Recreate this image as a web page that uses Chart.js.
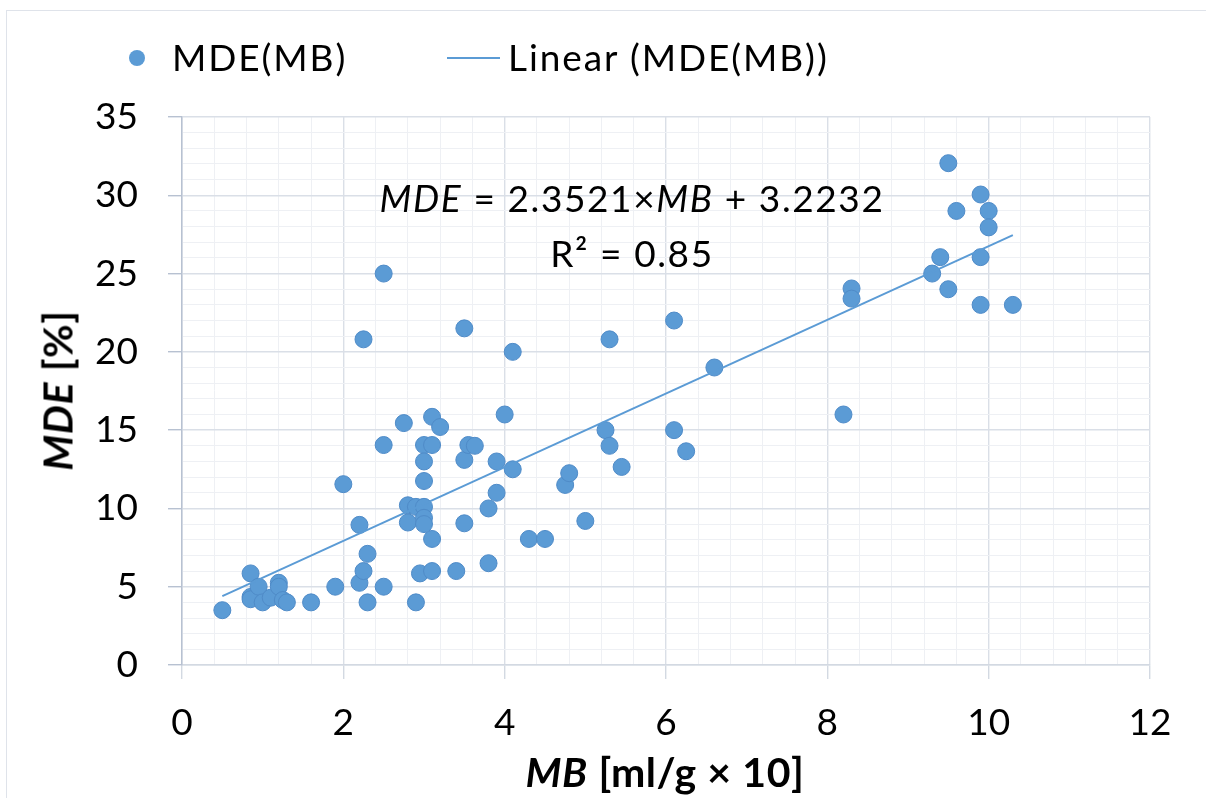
<!DOCTYPE html>
<html>
<head>
<meta charset="utf-8">
<title>MDE vs MB</title>
<script src="https://cdn.jsdelivr.net/npm/chart.js@4"></script>
<style>
  html, body { margin: 0; padding: 0; background: #fff; }
  body { font-family: Lato, 'Open Sans', sans-serif; color: #000; }
  #wrap { position: relative; width: 1206px; height: 798px; overflow: hidden; }
  #frame { position: absolute; left: 6px; top: 10px; width: 1300px; height: 900px; border: 1.5px solid #dfe3ea; }
  canvas { position: absolute; left: 0; top: 0; }
  .txt { position: absolute; white-space: nowrap; font-size: 37px; line-height: 37px; letter-spacing: 1.9px; }
  .dot { position: absolute; width: 16px; height: 16px; border-radius: 50%; background: #5b9bd5; }
  .lline { position: absolute; height: 0; border-top: 2px solid #5b9bd5; }
  .eq { position: absolute; text-align: center; font-size: 37px; line-height: 55px; white-space: nowrap; letter-spacing: 1.6px; }
  .ttl { position: absolute; text-align: center; font-size: 41px; line-height: 41px; font-weight: bold; white-space: nowrap; letter-spacing: 0.6px; }
</style>
</head>
<body>
<div id="wrap">
  <div id="frame"></div>
  <canvas id="chart" width="1206" height="798"></canvas>

  <!-- legend -->
  <span class="dot" style="left:129px; top:50px;"></span>
  <div class="txt" style="left:172px; top:38px;">MDE(MB)</div>
  <span class="lline" style="left:447px; top:57px; width:53px;"></span>
  <div class="txt" style="left:508px; top:38px;">Linear (MDE(MB))</div>

  <!-- trendline label -->
  <div class="eq" style="left:332px; top:170px; width:600px;"><i>MDE</i> = 2.3521×<i>MB</i> + 3.2232<br>R² = 0.85</div>

  <!-- axis titles -->
  <div class="ttl" style="left:365px; top:751px; width:600px;"><i>MB</i> [ml/g × 10]</div>
  <div class="ttl" style="left:-143px; top:370px; width:400px; transform: rotate(-90deg);"><i>MDE</i> [%]</div>
</div>

<script>
// ==================== DATA ====================
const mbValues = [
  0.5, 0.85, 0.85, 0.85, 0.95, 1.0, 1.1, 1.2, 1.2, 1.25, 1.3, 1.6, 1.9,
  2.0, 2.2, 2.2, 2.25, 2.25, 2.3, 2.3, 2.5, 2.5, 2.5, 2.75, 2.8, 2.8,
  2.9, 3.0, 3.0, 3.0, 2.9, 2.95, 3.0, 3.1, 3.0, 3.0, 3.1, 3.2, 3.1, 3.1,
  3.4, 3.5, 3.5, 3.5, 3.55, 3.63, 3.8, 3.8, 3.9, 3.9, 4.0, 4.1, 4.1,
  4.3, 4.5, 4.75, 4.8, 5.0, 5.25, 5.3, 5.3, 5.45, 6.1, 6.1, 6.25, 6.6,
  8.2, 8.3, 8.3, 9.3, 9.4, 9.5, 9.5, 9.6, 9.9, 9.9, 9.9, 10.0, 10.0, 10.3
];
const mdeValues = [
  3.5, 5.85, 4.35, 4.2, 5.0, 4.0, 4.3, 5.25, 5.0, 4.15, 4.0, 4.0, 5.0,
  11.55, 8.95, 5.25, 20.8, 6.0, 7.1, 4.0, 25.0, 14.05, 5.0, 15.45, 10.2, 9.1,
  10.1, 10.1, 9.4, 9.0, 4.0, 5.85, 14.05, 14.05, 13.0, 11.75, 15.85, 15.2, 8.05, 6.0,
  6.0, 21.5, 13.1, 9.05, 14.05, 14.0, 6.5, 10.0, 11.0, 13.0, 16.0, 20.0, 12.5,
  8.05, 8.05, 11.5, 12.25, 9.2, 15.0, 20.8, 14.0, 12.65, 22.0, 15.0, 13.65, 19.0,
  16.0, 24.05, 23.4, 25.0, 26.05, 32.05, 24.0, 29.0, 30.05, 26.05, 23.0, 29.0, 27.95, 23.0
];

// linear trendline end points
const trendX = [0.5, 10.3];
const trendY = [4.4, 27.45];

// ==================== STYLE HELPERS ====================
const FONT = "Lato, 'Open Sans', sans-serif";
const isMult = (v, m) => Math.abs(v / m - Math.round(v / m)) < 1e-6;

const MAJOR_GRID = '#dadfe7';
const MINOR_GRID = '#eef0f4';

// ==================== CHART ====================
new Chart(document.getElementById('chart').getContext('2d'), {
  type: 'scatter',
  data: {
    datasets: [
      {
        label: 'MDE(MB)',
        data: mbValues.map((x, i) => ({ x, y: mdeValues[i] })),
        backgroundColor: '#5b9bd5',
        borderColor: '#4f8bc8',
        borderWidth: 1,
        pointRadius: 8.5,
        order: 2
      },
      {
        type: 'line',
        label: 'Linear (MDE(MB))',
        data: trendX.map((x, i) => ({ x, y: trendY[i] })),
        borderColor: '#5b9bd5',
        borderWidth: 2,
        pointRadius: 0,
        fill: false,
        order: 1
      }
    ]
  },
  options: {
    responsive: false,
    animation: false,
    layout: { padding: { top: 117, right: 56, left: 0, bottom: 0 } },
    plugins: { legend: { display: false }, tooltip: { enabled: false } },
    scales: {
      x: {
        type: 'linear', min: 0, max: 12,
        afterFit: s => { s.height = 798 - 665; s.paddingLeft = 0; s.paddingRight = 0; },
        ticks: {
          stepSize: 0.4, autoSkip: false, maxRotation: 0, minRotation: 0,
          padding: 22, color: '#000',
          font: { family: FONT, size: 37 },
          callback: v => isMult(v, 2) ? String(Math.round(v)) : ''
        },
        grid: {
          color: c => isMult(c.tick.value, 2) ? MAJOR_GRID : MINOR_GRID,
          lineWidth: c => isMult(c.tick.value, 2) ? 1.4 : 1,
          tickLength: 14,
          tickColor: c => isMult(c.tick.value, 2) ? '#d3d9e2' : 'rgba(0,0,0,0)'
        },
        border: { color: '#d3d9e2', width: 1.5 }
      },
      y: {
        type: 'linear', min: 0, max: 35,
        afterFit: s => { s.width = 182; s.paddingTop = 0; s.paddingBottom = 0; },
        ticks: {
          stepSize: 1, autoSkip: false, padding: 30, color: '#000',
          font: { family: FONT, size: 37 },
          callback: v => isMult(v, 5) ? String(v) : ''
        },
        grid: {
          color: c => isMult(c.tick.value, 5) ? MAJOR_GRID : MINOR_GRID,
          lineWidth: c => isMult(c.tick.value, 5) ? 1.4 : 1,
          tickLength: 14,
          tickColor: c => isMult(c.tick.value, 5) ? '#b7c1d1' : 'rgba(0,0,0,0)'
        },
        border: { color: '#b7c1d1', width: 1.5 }
      }
    }
  }
});
</script>
</body>
</html>
